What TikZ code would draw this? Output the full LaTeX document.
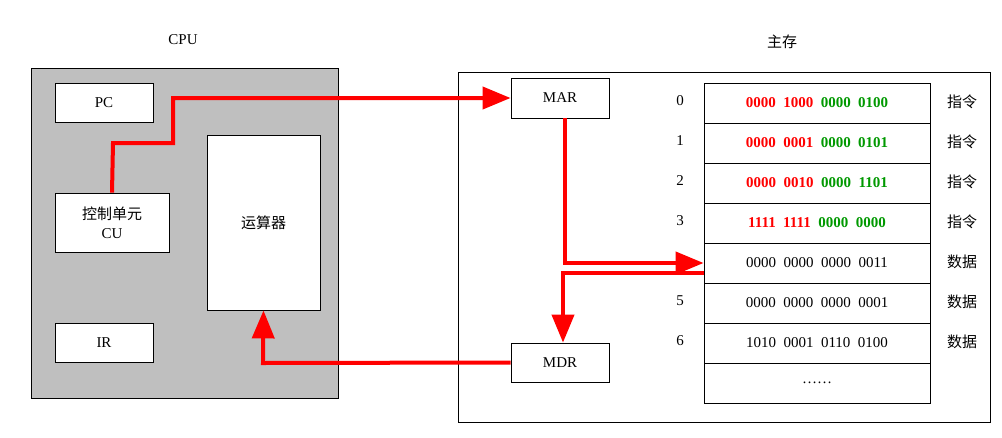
\documentclass[tikz,border=0pt]{standalone}
\usepackage{fontspec}
\setmainfont{Liberation Serif}
\newfontfamily\cjk{Noto Sans CJK SC}
\usetikzlibrary{arrows.meta}
\begin{document}
\begin{tikzpicture}[x=1pt,y=-1pt,
  box/.style={draw,fill=white,line width=0.8pt,inner sep=0pt},
  red/.style={draw=red,line width=4pt},
  rarr/.style={red,-{Triangle[length=28pt,width=22pt]}},
  txt/.style={font=\fontsize{15}{17}\selectfont},
  ctxt/.style={font=\cjk\fontsize{15}{17}\selectfont},
  rw/.style={font=\bfseries\fontsize{15}{17}\selectfont}]
\useasboundingbox (0,0) rectangle (1002,437);
\node[txt] (cpul) at (183,40) {CPU};
\node[ctxt] (meml) at (782,42) {主存};
\path[draw,fill=gray!50,line width=0.8pt] (31,68) rectangle (338,398);
\node[box,minimum width=98pt,minimum height=39pt,txt] (pc) at (104,102.5) {PC};
\node[box,minimum width=114pt,minimum height=59pt,align=center,font=\fontsize{15}{19}\selectfont] (cu) at (112,222.5) {{\cjk 控制单元}\\CU};
\node[box,minimum width=113pt,minimum height=175pt,ctxt] (alu) at (263.5,222.5) {运算器};
\node[box,minimum width=98pt,minimum height=39pt,txt] (ir) at (104,342.5) {IR};
\draw[line width=0.8pt] (458,72) rectangle (990,422);
\node[box,minimum width=98pt,minimum height=40pt,txt] (mar) at (560,98) {MAR};
\node[box,minimum width=98pt,minimum height=39pt,txt] (mdr) at (560,362.5) {MDR};
\foreach \i/\t/\l in {0/{\textcolor{red}{0000\ \ 1000}\ \ \textcolor{green!60!black}{0000\ \ 0100}}/指令,
 1/{\textcolor{red}{0000\ \ 0001}\ \ \textcolor{green!60!black}{0000\ \ 0101}}/指令,
 2/{\textcolor{red}{0000\ \ 0010}\ \ \textcolor{green!60!black}{0000\ \ 1101}}/指令,
 3/{\textcolor{red}{1111\ \ 1111}\ \ \textcolor{green!60!black}{0000\ \ 0000}}/指令}{
  \node[box,minimum width=226pt,minimum height=40pt,rw] (r\i) at (817,103+40*\i) {\t};
  \node[txt] (n\i) at (680,101+40*\i) {\i};
  \node[ctxt] (l\i) at (962,102+40*\i) {\l};
}
\foreach \i/\t in {4/{0000\ \ 0000\ \ 0000\ \ 0011},5/{0000\ \ 0000\ \ 0000\ \ 0001},6/{1010\ \ 0001\ \ 0110\ \ 0100}}{
  \node[box,minimum width=226pt,minimum height=40pt,txt] (r\i) at (817,103+40*\i) {\t};
  \node[txt] (n\i) at (680,101+40*\i) {\i};
  \node[ctxt] (l\i) at (962,102+40*\i) {数据};
}
\node[box,minimum width=226pt,minimum height=40pt,txt] (r7) at (817,383) {……};
\draw[rarr] (cu.north) -- (113,143) -- (173,143) -- (173,98) -- (mar.west);
\draw[rarr] (565,118) -- (565,263) -- (r4.west |- 0,263);
\draw[rarr] (r4.west |- 0,273) -- (563,273) -- (mdr.north -| 563,0);
\draw[rarr] (mdr.west) -- (263,363) -- (alu.south);
\end{tikzpicture}
\end{document}
